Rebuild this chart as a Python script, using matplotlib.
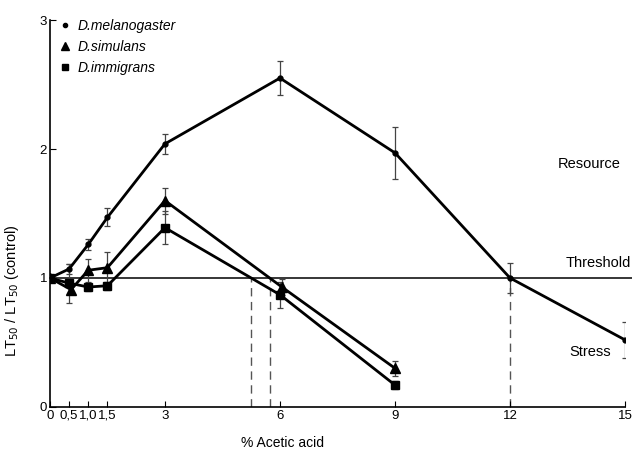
import numpy as np
import matplotlib
matplotlib.use("Agg")
from matplotlib import pyplot as plt
from matplotlib.lines import Line2D

plt.rcParams['font.family'] = ['Liberation Sans', 'DejaVu Sans']

# acid concentration (%) and LT50 ratios
mel_x = [0, 0.5, 1.0, 1.5, 3, 6, 9, 12, 15]
mel_y = [1.0, 1.07, 1.26, 1.47, 2.04, 2.55, 1.97, 1.0, 0.52]
mel_err = [0, 0.04, 0.04, 0.07, 0.08, 0.13, 0.2, 0.12, 0.14]

sim_x = [0, 0.55, 1.0, 1.5, 3, 6.05, 9]
sim_y = [1.0, 0.91, 1.06, 1.08, 1.6, 0.93, 0.30]
sim_err = [0, 0.03, 0.09, 0.12, 0.1, 0.06, 0.06]

imm_x = [0, 0.5, 1.0, 1.5, 3, 6, 9]
imm_y = [1.0, 0.96, 0.93, 0.94, 1.39, 0.87, 0.17]
imm_err = [0, 0.15, 0.03, 0.03, 0.13, 0.1, 0.03]

xticks = [0, 0.5, 1.0, 1.5, 3, 6, 9, 12, 15]
xticklabels = ['0', '0,5', '1,0', '1,5', '3', '6', '9', '12', '15']
yticks = [0, 1, 2, 3]

# threshold crossings (dashed drop lines)
cross_x = [5.25, 5.75, 12]

fig = plt.figure(figsize=(6.32, 4.51), dpi=100)
ax = fig.add_axes([0.079, 0.0976, 0.91, 0.858])

ax.plot([0, 15.25], [1, 1], color='black', lw=1.1, clip_on=False, zorder=1)
for cx in cross_x:
	ax.plot([cx, cx], [0, 1], color='#555555', lw=1.0, ls=(0, (6, 4)), zorder=1)

series = [
	(mel_x, mel_y, mel_err, 'o', 3.5),
	(sim_x, sim_y, sim_err, '^', 7),
	(imm_x, imm_y, imm_err, 's', 5.5),
]
for xs, ys, es, m, ms in series:
	ax.errorbar(xs, ys, yerr=es, fmt='none', ecolor='#444444', elinewidth=0.9, capsize=2.5, capthick=0.9, zorder=2)
	ax.plot(xs, ys, color='black', lw=2.0, marker=m, markersize=ms, zorder=3)

ax.set_xlim(0, 15)
ax.set_ylim(0, 3)
ax.set_xticks(xticks)
ax.set_xticklabels(xticklabels)
ax.set_yticks(yticks)
ax.tick_params(direction='in', length=4, labelsize=9.5, pad=2)
for s in ['top', 'right']:
	ax.spines[s].set_visible(False)
ax.spines['left'].set_linewidth(1.2)
ax.spines['bottom'].set_linewidth(1.2)

ax.set_xlabel('% Acetic acid', fontsize=10)
ax.xaxis.set_label_coords(0.405, -0.075)
ax.set_ylabel('LT$_{50}$ / LT$_{50}$ (control)', fontsize=10.5)
ax.yaxis.set_label_coords(-0.05, 0.3)

ax.text(13.25, 1.88, 'Resource', fontsize=10.5, va='center', clip_on=False)
ax.text(13.45, 1.12, 'Threshold', fontsize=10.5, va='center', clip_on=False)
ax.text(13.55, 0.43, 'Stress', fontsize=10.5, va='center', clip_on=False)

handles = [
	Line2D([], [], color='black', marker='o', ls='none', markersize=3),
	Line2D([], [], color='black', marker='^', ls='none', markersize=6),
	Line2D([], [], color='black', marker='s', ls='none', markersize=4.5),
]
labels = ['D.melanogaster', 'D.simulans', 'D.immigrans']
leg = ax.legend(handles, labels, loc='upper left', bbox_to_anchor=(-0.005, 1.035), frameon=False,
	handlelength=0.8, handletextpad=0.5, labelspacing=0.5, prop={'style': 'italic', 'size': 10})

fig.savefig('out.png', dpi=100)
